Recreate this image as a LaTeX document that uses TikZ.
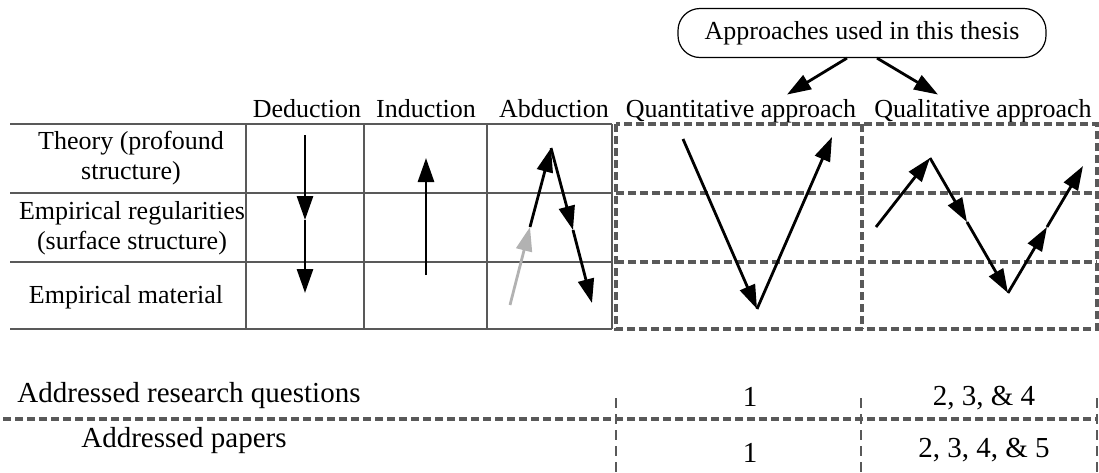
\documentclass[tikz,border=0pt]{standalone}
\usepackage{fontspec}
\setmainfont{Liberation Serif}
\usetikzlibrary{arrows.meta,positioning,calc}

\begin{document}
\begin{tikzpicture}[
  x=0.5pt, y=-0.5pt,
  font=\fontsize{13}{15}\selectfont,
  arrow/.style={-{Triangle[length=12pt,width=8pt]}, draw=black, line width=1.4pt},
  greyarrow/.style={-{Triangle[length=12pt,width=8pt]}, draw=black!30, line width=1.4pt},
  gridline/.style={draw=black!65, line width=0.7pt},
  dashline/.style={draw=black!65, line width=1.6pt, dash pattern=on 4pt off 2pt},
  coldash/.style={draw=black!65, line width=1.1pt, dash pattern=on 5pt off 3pt},
  thesisbox/.style={draw=black, line width=0.6pt, rounded corners=11pt,
    minimum width=184pt, minimum height=24.5pt, inner sep=0pt},
  headtxt/.style={anchor=base, inner sep=1pt},
  rowtxt/.style={align=center, inner sep=1pt},
  bottxt/.style={anchor=base, inner sep=1pt, font=\fontsize{14.5}{17}\selectfont}
]
\useasboundingbox (0,0) rectangle (1099,472);

% Approaches box
\node[thesisbox] (thesis) at (862,33) {Approaches used in this thesis};

% Column headers
\node[headtxt] (deduction) at (307,117) {Deduction};
\node[headtxt] (induction) at (426,117) {Induction};
\node[headtxt] (abduction) at (554,117) {Abduction};
\node[headtxt] (quant) at (741,117) {Quantitative approach};
\node[headtxt] (qual) at (983,117) {Qualitative approach};

\draw[arrow] ([xshift=-7.5pt]thesis.south) -- ([xshift=23pt,yshift=1pt]quant.north);
\draw[arrow] ([xshift=7.5pt]thesis.south) -- ([xshift=-22.5pt,yshift=1pt]qual.north);

% Row labels
\node[rowtxt] (theory) at (131,158) {Theory (profound\\structure)};
\node[rowtxt] (regular) at (132,228) {Empirical regularities\\(surface structure)};
\node[rowtxt] (material) at (126,297) {Empirical material};

% Left table
\foreach \y in {124,193,262,329}
  \draw[gridline] (10,\y) -- (612,\y);
\foreach \x in {246,364,487,612}
  \draw[gridline] (\x,124) -- (\x,329);

% Dashed box of the approaches
\draw[dashline] (616,124) rectangle (1097,329);
\foreach \y in {193,262}
  \draw[dashline] (616,\y) -- (1097,\y);
\draw[dashline] (862,124) -- (862,329);

% Deduction
\coordinate (d1) at (305,135);
\coordinate (d2) at (305,220);
\coordinate (d3) at (305,293);
\draw[arrow] (d1) -- (d2);
\draw[arrow] (d2) -- (d3);

% Induction
\coordinate (i1) at (426,275);
\coordinate (i2) at (426,158);
\draw[arrow] (i1) -- (i2);

% Abduction
\coordinate (a1) at (510,305);
\coordinate (a2) at (530,227);
\coordinate (a3) at (551,148);
\coordinate (a4) at (573,230);
\coordinate (a5) at (592,303);
\draw[greyarrow] (a1) -- (a2);
\draw[arrow] (a2) -- (a3);
\draw[arrow] (a3) -- (a4);
\draw[arrow] (a4) -- (a5);

% Quantitative
\coordinate (n1) at (683,139);
\coordinate (n2) at (757,309);
\coordinate (n3) at (832,137);
\draw[arrow] (n1) -- (n2);
\draw[arrow] (n2) -- (n3);

% Qualitative
\coordinate (l1) at (876,227);
\coordinate (l2) at (930,158);
\coordinate (l3) at (967,222);
\coordinate (l4) at (1008,293);
\coordinate (l5) at (1047,227);
\coordinate (l6) at (1083,166);
\draw[arrow] (l1) -- (l2);
\draw[arrow] (l2) -- (l3);
\draw[arrow] (l3) -- (l4);
\draw[arrow] (l4) -- (l5);
\draw[arrow] (l5) -- (l6);

% Bottom table
\node[bottxt] (rq) at (189,402) {Addressed research questions};
\node[bottxt] (papers) at (184,447) {Addressed papers};
\node[bottxt] (rqquant) at (750,406) {1};
\node[bottxt] (rqqual) at (984,405) {2, 3, \& 4};
\node[bottxt] (papquant) at (750,462) {1};
\node[bottxt] (papqual) at (984,457) {2, 3, 4, \& 5};

\draw[dashline] (3,419) -- (1097,419);
\foreach \x in {616,861,1097}
  \draw[coldash] (\x,398) -- (\x,472);

\end{tikzpicture}
\end{document}
